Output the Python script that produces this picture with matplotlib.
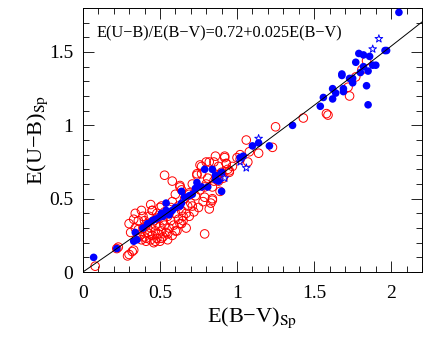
import numpy as np
import matplotlib
matplotlib.use('Agg')
import matplotlib.pyplot as plt
from matplotlib.ticker import MultipleLocator

plt.rcParams['font.family'] = ['Liberation Serif', 'DejaVu Serif']
plt.rcParams['mathtext.fontset'] = 'stix'

# red open circles
red_x = [0.08, 0.22, 0.23, 0.32, 0.33, 0.29, 0.30, 0.31, 0.34, 0.34, 0.37, 0.38, 0.36,
         0.39, 0.40, 0.41, 0.42, 0.42, 0.43, 0.44, 0.44, 0.45, 0.45, 0.46, 0.46, 0.47,
         0.47, 0.48, 0.48, 0.49, 0.49, 0.50, 0.50, 0.51, 0.51, 0.52, 0.52, 0.53, 0.53,
         0.54, 0.55, 0.55, 0.56, 0.57, 0.57, 0.58, 0.58, 0.59, 0.60, 0.60, 0.61, 0.62,
         0.62, 0.63, 0.64, 0.64, 0.65, 0.66, 0.67, 0.68, 0.69, 0.69, 0.70, 0.71, 0.72,
         0.73, 0.74, 0.75, 0.76, 0.77, 0.77, 0.78, 0.79, 0.79, 0.80, 0.81, 0.82, 0.82,
         0.83, 0.84, 0.84, 0.85, 0.86, 0.87, 0.88, 0.89, 0.90, 0.92, 0.93, 0.94, 0.95,
         0.53, 0.79, 0.41, 0.47, 0.51, 0.55, 0.60, 0.63, 0.65, 0.67, 0.71, 0.56, 0.50,
         0.45, 0.63, 0.64, 0.76, 0.74, 0.80, 0.85, 0.92, 0.93, 1.00, 1.02, 1.06, 1.08,
         1.14, 1.23, 1.07, 0.84, 0.69, 0.88, 0.91, 0.95, 0.97, 1.02, 0.58, 0.44,
         1.25, 1.43, 1.58, 1.59, 1.73, 1.72, 1.77, 1.81, 1.84,
         0.30, 0.33, 0.36, 0.38, 0.40, 0.43, 0.35, 0.39]
red_y = [0.04, 0.16, 0.17, 0.14, 0.15, 0.11, 0.12, 0.27, 0.30, 0.40, 0.25, 0.22, 0.35,
         0.30, 0.24, 0.21, 0.33, 0.27, 0.38, 0.22, 0.30, 0.25, 0.42, 0.35, 0.20, 0.28,
         0.32, 0.23, 0.40, 0.26, 0.37, 0.21, 0.31, 0.45, 0.28, 0.24, 0.35, 0.32, 0.41,
         0.27, 0.38, 0.22, 0.30, 0.44, 0.35, 0.25, 0.48, 0.32, 0.40, 0.53, 0.28, 0.36,
         0.45, 0.58, 0.42, 0.33, 0.38, 0.50, 0.30, 0.45, 0.38, 0.53, 0.47, 0.60, 0.41,
         0.52, 0.66, 0.44, 0.56, 0.72, 0.67, 0.48, 0.58, 0.51, 0.60, 0.64, 0.43, 0.75,
         0.47, 0.49, 0.58, 0.62, 0.79, 0.66, 0.72, 0.55, 0.68, 0.79, 0.74, 0.70, 0.68,
         0.66, 0.26, 0.23, 0.21, 0.23, 0.26, 0.28, 0.33, 0.35, 0.40, 0.45, 0.40, 0.44,
         0.42, 0.59, 0.56, 0.73, 0.67, 0.75, 0.75, 0.78, 0.74, 0.78, 0.80, 0.90, 0.82,
         0.81, 0.85, 0.75, 0.50, 0.54, 0.62, 0.64, 0.69, 0.72, 0.77, 0.62, 0.46,
         0.99, 1.05, 1.08, 1.07, 1.20, 1.26, 1.33, 1.38, 1.44,
         0.33, 0.36, 0.29, 0.42, 0.35, 0.26, 0.23, 0.38]

# blue filled circles
blue_x = [0.07, 0.22, 0.33, 0.35, 0.34, 0.39, 0.42, 0.45, 0.49, 0.47, 0.51, 0.54, 0.54,
          0.56, 0.58, 0.63, 0.64, 0.64, 0.66, 0.69, 0.71, 0.73, 0.74, 0.77, 0.79, 0.84,
          0.81, 0.86, 0.86, 0.90, 0.90, 0.88, 0.60, 0.52, 1.02, 1.04, 1.10, 1.14, 1.21,
          1.36, 1.54, 1.56, 1.62, 1.62, 1.64, 1.68, 1.68, 1.69, 1.69, 1.73, 1.75, 1.75,
          1.77, 1.79, 1.82, 1.80, 1.82, 1.84, 1.85, 1.85, 1.86, 1.88, 1.90, 1.96, 1.97,
          2.05]
blue_y = [0.10, 0.16, 0.21, 0.22, 0.27, 0.30, 0.33, 0.35, 0.37, 0.36, 0.40, 0.42, 0.47,
          0.39, 0.42, 0.45, 0.47, 0.55, 0.51, 0.52, 0.53, 0.57, 0.61, 0.58, 0.70, 0.70,
          0.58, 0.66, 0.63, 0.68, 0.55, 0.62, 0.44, 0.38, 0.78, 0.79, 0.86, 0.88, 0.86,
          1.00, 1.13, 1.19, 1.25, 1.18, 1.22, 1.35, 1.34, 1.25, 1.23, 1.32, 1.29, 1.32,
          1.43, 1.49, 1.48, 1.36, 1.40, 1.27, 1.14, 1.37, 1.47, 1.41, 1.41, 1.51, 1.51,
          1.77]

# blue open stars
star_x = [1.02, 1.06, 1.14, 0.92, 1.88, 1.92]
star_y = [0.75, 0.71, 0.91, 0.64, 1.52, 1.59]

fig = plt.figure(figsize=(4.36, 3.47), dpi=100)
ax = fig.add_axes([0.19, 0.216, 0.778, 0.761])

ax.scatter(red_x, red_y, s=38, facecolors='none', edgecolors='red', linewidths=0.7, zorder=2)
ax.scatter(blue_x, blue_y, s=30, c='blue', edgecolors='none', zorder=3)
ax.scatter(star_x, star_y, s=34, marker='*', facecolors='none', edgecolors='blue',
           linewidths=0.7, zorder=3)

xx = np.linspace(0, 2.2, 200)
ax.plot(xx, 0.72 * xx + 0.025 * xx**2, color='black', lw=0.7, zorder=4)

ax.text(0.09, 1.63, 'E(U\u2212B)/E(B\u2212V)=0.72+0.025E(B\u2212V)', fontsize=11.7,
        va='center', ha='left')

ax.set_xlim(0, 2.2)
ax.set_ylim(0, 1.8)
ax.xaxis.set_major_locator(MultipleLocator(0.5))
ax.xaxis.set_minor_locator(MultipleLocator(0.1))
ax.yaxis.set_major_locator(MultipleLocator(0.5))
ax.yaxis.set_minor_locator(MultipleLocator(0.1))
ax.xaxis.set_major_formatter(plt.FuncFormatter(lambda v, p: '%g' % v))
ax.yaxis.set_major_formatter(plt.FuncFormatter(lambda v, p: '%g' % v))
ax.tick_params(which='both', direction='in', top=True, right=True, labelsize=14, width=0.6)
ax.tick_params(which='major', length=8)
ax.tick_params(which='minor', length=4)
ax.tick_params(axis='x', which='major', pad=9)
ax.tick_params(axis='y', which='major', pad=7)
for sp in ax.spines.values():
    sp.set_linewidth(0.7)

ax.set_xlabel('E(B\u2212V)$_{\\rm Sp}$', fontsize=16, labelpad=3)
ax.set_ylabel('E(U\u2212B)$_{\\rm Sp}$', fontsize=16, labelpad=-1)

fig.savefig('out.png', dpi=100)
